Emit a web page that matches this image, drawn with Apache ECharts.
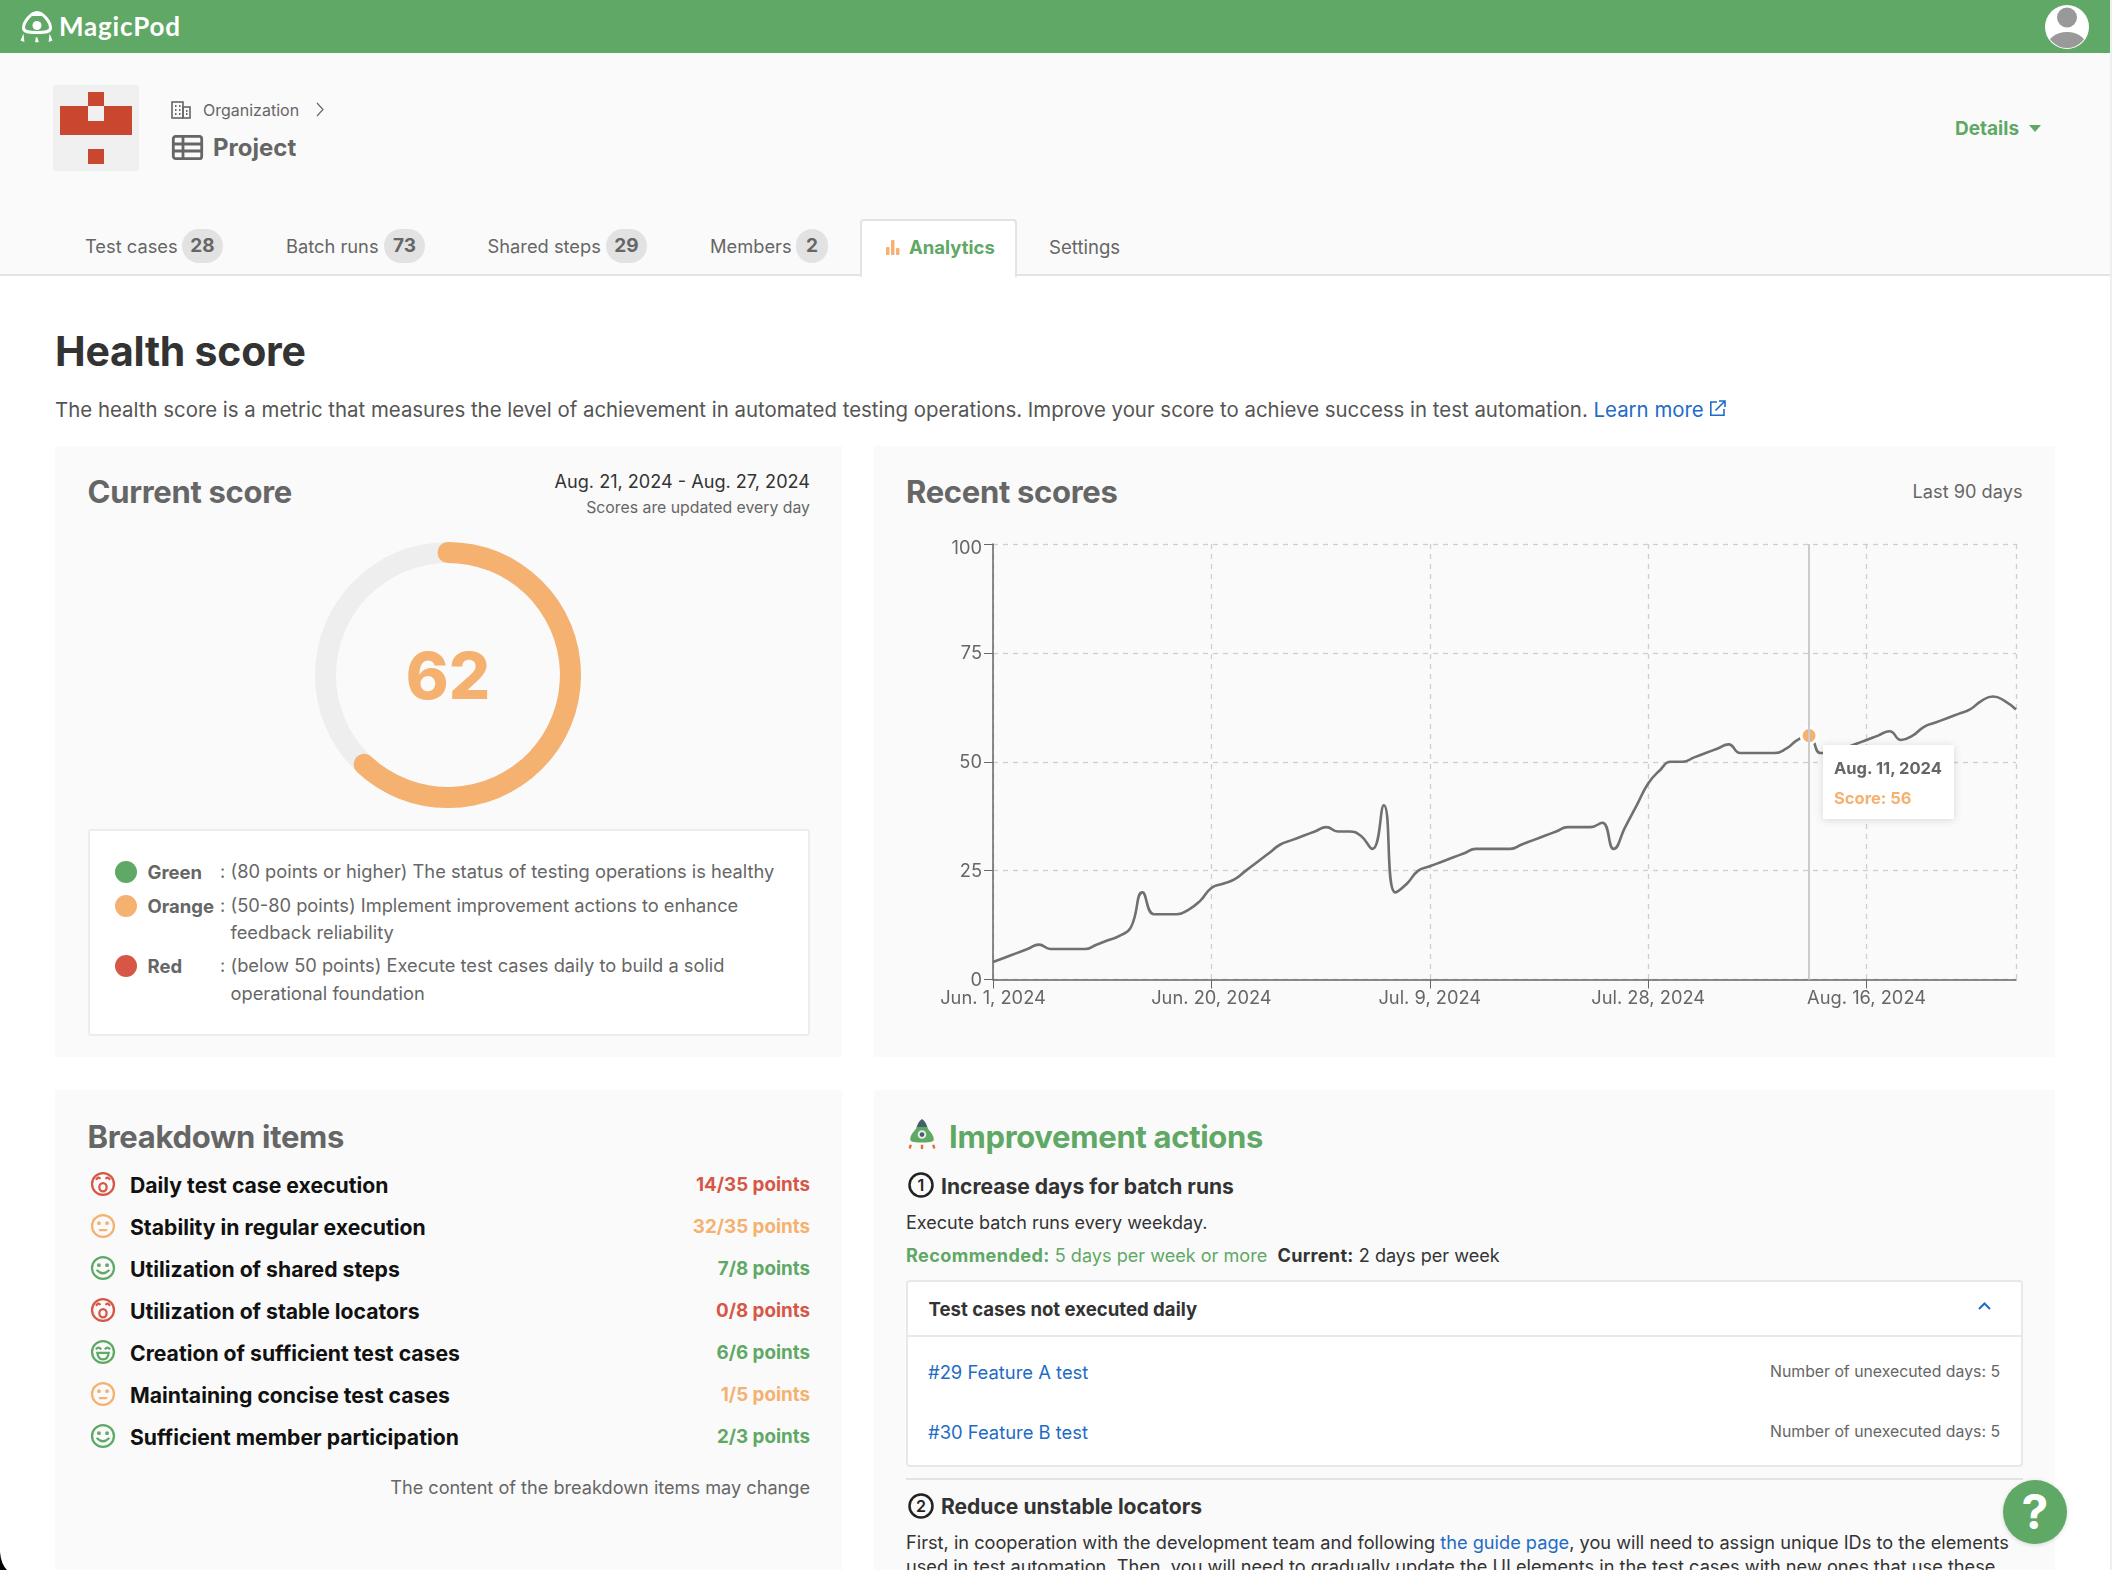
<!DOCTYPE html>
<html lang="en">
<head>
<meta charset="utf-8">
<title>Health score</title>
<script src="https://cdn.jsdelivr.net/npm/echarts@6/dist/echarts.min.js"></script>
<style>
html,body{margin:0;padding:0;background:#fff;width:2112px;height:1570px;overflow:hidden;font-family:Inter,"Noto Sans",sans-serif;color:#555;-webkit-font-smoothing:antialiased}
.b{position:absolute;box-sizing:border-box}
.t{position:absolute;transform:translateY(calc(-50% + 1.3px));white-space:nowrap;line-height:1.2}
.panel{position:absolute;background:#fafafa}
.h2{font-size:31px;font-weight:700;color:#666;letter-spacing:-.3px}
.badge{position:absolute;top:229px;height:34px;border-radius:17px;background:#e2e2e2;color:#666;font-weight:700;font-size:19px;line-height:34px;text-align:center}
.tab{font-size:18.3px;color:#666}
.a{color:#1f6cc5}
.g{color:#5fa865}
svg{position:absolute;overflow:visible}
</style>
</head>
<body>
<div class="b" style="left:0;top:0;width:2112px;height:53px;background:#5fa865"></div>
<svg style="left:0;top:0" width="60" height="53" viewBox="0 0 60 53">
  <path d="M37 12.500 C31 12.500 23.500 22 23.500 28 C23.500 31.500 27 32.500 37 32.500 C47 32.500 50.500 31.500 50.500 28 C50.500 22 43 12.500 37 12.500 Z" fill="none" stroke="#fff" stroke-width="3"/>
  <path d="M31 16 Q37 9 43 16 Z" fill="#fff"/>
  <circle cx="37" cy="25.500" r="4.500" fill="#fff"/>
  <path d="M23 36.500l-1.500 3.500 2 .8zM36.500 37.500l-.5 4 1.800 0zM50 36.500l1.500 3.500-2 .8z" fill="#fff" stroke="#fff" stroke-width="1.500"/>
</svg>
<div class="t" style="left:59px;top:25px;color:#fff;font-size:26px;font-weight:700;letter-spacing:.8px;font-family:Lato,Inter,sans-serif">MagicPod</div>
<svg style="left:2044px;top:4px" width="46" height="46" viewBox="0 0 46 46">
  <defs><clipPath id="av"><circle cx="23" cy="23" r="21"/></clipPath></defs>
  <circle cx="23" cy="23" r="22" fill="#fff"/>
  <g clip-path="url(#av)"><circle cx="23" cy="13.500" r="10" fill="#999"/><ellipse cx="23" cy="45" rx="21" ry="17" fill="#999"/></g>
</svg>
<div class="b" style="left:0;top:53px;width:2112px;height:222px;background:#fafafa"></div>
<div class="b" style="left:0;top:274px;width:2112px;height:2px;background:#e3e3e3"></div>

<div class="b" style="left:53px;top:85px;width:86px;height:86px;background:#f0f0f0;border-radius:3px"></div>
<div class="b" style="left:60px;top:106px;width:72px;height:29px;background:#c9462f"></div>
<div class="b" style="left:88px;top:92px;width:16px;height:14px;background:#c9462f"></div>
<div class="b" style="left:88px;top:106px;width:16px;height:15px;background:#f0f0f0"></div>
<div class="b" style="left:88px;top:149px;width:16px;height:15px;background:#c9462f"></div>

<svg style="left:171px;top:100px" width="20" height="20" viewBox="0 0 20 20" fill="none" stroke="#666" stroke-width="1.600"><rect x="1" y="2" width="11" height="16"/><rect x="12" y="7" width="7" height="11"/><path d="M4 6h1.500M8 6h1.500M4 10h1.500M8 10h1.500M4 14h1.500M8 14h1.500M15 11h1.500M15 14h1.500" stroke-width="2"/></svg>
<div class="t" style="left:203px;top:108.500px;font-size:16px;color:#666">Organization</div>
<svg style="left:315px;top:102px" width="10" height="15" viewBox="0 0 10 15" fill="none" stroke="#666" stroke-width="1.200"><path d="M2 1l6 6.500-6 6.500"/></svg>
<svg style="left:172px;top:135px" width="31" height="25" viewBox="0 0 31 25" fill="none" stroke="#666" stroke-width="2.800"><rect x="1.300" y="1.300" width="28.400" height="22.400" rx="2.500"/><path d="M1 9h29M1 16h29M11 2v22"/></svg>
<div class="t" style="left:213px;top:147px;font-size:24px;font-weight:700;color:#666">Project</div>
<div class="t g" style="left:1955px;top:128px;font-size:19px;font-weight:700">Details</div>
<svg style="left:2029px;top:125px" width="12" height="7" viewBox="0 0 12 7"><path d="M0 0h12L6 7z" fill="#5fa865"/></svg>

<div class="t tab" style="left:85px;top:246px">Test cases</div><div class="badge" style="left:182px;width:41px">28</div>
<div class="t tab" style="left:286px;top:246px">Batch runs</div><div class="badge" style="left:384px;width:41px">73</div>
<div class="t tab" style="left:487.500px;top:246px">Shared steps</div><div class="badge" style="left:606px;width:41px">29</div>
<div class="t tab" style="left:710px;top:246px">Members</div><div class="badge" style="left:796px;width:32px">2</div>
<div class="b" style="left:860px;top:219px;width:157px;height:58px;background:#fff;border:2px solid #e3e3e3;border-bottom:0;border-radius:4px 4px 0 0"></div>
<svg style="left:886px;top:240px" width="14" height="15" viewBox="0 0 14 15" fill="#f4b170"><rect x="0" y="7" width="3.500" height="8" rx="1"/><rect x="5" y="0" width="3.500" height="15" rx="1"/><rect x="10" y="8" width="3.500" height="7" rx="1"/></svg>
<div class="t g" style="left:909px;top:246px;font-size:18.500px;font-weight:700">Analytics</div>
<div class="t tab" style="left:1049px;top:246px;font-size:18.600px">Settings</div>

<div class="t" style="left:55px;top:350px;font-size:41px;font-weight:700;color:#333;letter-spacing:-.25px">Health score</div>
<div class="t" style="left:55px;top:408.500px;font-size:20.410px;color:#555">The health score is a metric that measures the level of achievement in automated testing operations. Improve your score to achieve success in test automation. <span class="a">Learn more</span></div>
<svg style="left:1709px;top:400px" width="17" height="17" viewBox="0 0 17 17" fill="none" stroke="#1f6cc5" stroke-width="1.600"><path d="M8 2H1.800v13.200H15V9"/><path d="M6.500 10.500L15.500 1.500M10 1h6v6"/></svg>

<div class="panel" style="left:55px;top:446px;width:787px;height:611px"></div>
<div class="panel" style="left:874px;top:446px;width:1181px;height:611px"></div>
<div class="panel" style="left:55px;top:1090px;width:787px;height:480px"></div>
<div class="panel" style="left:874px;top:1090px;width:1181px;height:480px"></div>

<div class="t h2" style="left:87.500px;top:490px">Current score</div>
<div class="t" style="right:1302px;top:480.500px;font-size:18.100px;color:#333">Aug. 21, 2024 - Aug. 27, 2024</div>
<div class="t" style="right:1302px;top:506.500px;font-size:15.800px;color:#666">Scores are updated every day</div>
<div id="gauge" class="b" style="left:288px;top:514.500px;width:320px;height:320px"></div>

<div class="b" style="left:88px;top:829px;width:722px;height:207px;background:#fff;border:2px solid #ededed;border-radius:3px"></div>
<div id="legend"></div>

<div class="t h2" style="left:906px;top:490px">Recent scores</div>
<div class="t" style="right:89.500px;top:490.500px;font-size:18.200px;color:#666">Last 90 days</div>
<div id="line" class="b" style="left:874px;top:446px;width:1181px;height:611px"></div>

<div class="t h2" style="left:87.500px;top:1134.500px">Breakdown items</div>
<div id="breakdown"></div>
<div class="t" style="right:1302px;top:1486.500px;font-size:18.150px;color:#666">The content of the breakdown items may change</div>

<svg style="left:908px;top:1119px" width="28" height="30" viewBox="0 0 26 28">
  <path d="M13 0 C10 2 8.500 5 8 8 L18 8 C17.500 5 16 2 13 0 Z" fill="#46606b"/>
  <path d="M8 7.500 C7 11 2 14 2 19 C2 21 4 22 13 22 C22 22 24 21 24 19 C24 14 19 11 18 7.500 Z" fill="#5fa865"/>
  <circle cx="13" cy="14.500" r="4" fill="#e8efe8"/><circle cx="13" cy="14.500" r="2.200" fill="#46606b"/>
  <path d="M2.500 24l-1 3.500M13 24v4M23.500 24l1 3.500" stroke="#e8683a" stroke-width="2.200"/>
</svg>
<div class="t g" style="left:949px;top:1134.500px;font-size:31px;font-weight:700;letter-spacing:-.3px">Improvement actions</div>
<svg style="left:908px;top:1172px" width="26" height="26" viewBox="0 0 26 26"><circle cx="13" cy="13" r="11.500" fill="none" stroke="#222" stroke-width="2.500"/><text x="13" y="18.500" text-anchor="middle" font-size="16" font-weight="600" fill="#222" font-family="Inter">1</text></svg>
<div class="t" style="left:941px;top:1185px;font-size:21.050px;font-weight:700;color:#333">Increase days for batch runs</div>
<div class="t" style="left:906px;top:1220.500px;font-size:18px;color:#333">Execute batch runs every weekday.</div>
<div class="t" style="left:906px;top:1255px;font-size:18.100px;color:#333"><span class="g"><b style="letter-spacing:.4px">Recommended:</b> 5 days per week or more</span>&nbsp; <b style="letter-spacing:.3px">Current:</b> 2 days per week</div>
<div class="b" style="left:906px;top:1280px;width:1117px;height:187px;background:#fff;border:2px solid #e8e8e8;border-radius:4px"></div>
<div class="b" style="left:907px;top:1335px;width:1115px;height:2px;background:#e8e8e8"></div>
<div class="t" style="left:928.500px;top:1307.500px;font-size:18.600px;font-weight:700;color:#333">Test cases not executed daily</div>
<svg style="left:1978px;top:1302px" width="13" height="8" viewBox="0 0 13 8" fill="none" stroke="#1f6cc5" stroke-width="2"><path d="M1 7l5.500-5.500L12 7"/></svg>
<div id="rows"></div>
<div class="b" style="left:906px;top:1478px;width:1117px;height:2px;background:#e3e3e3"></div>
<svg style="left:908px;top:1493px" width="26" height="26" viewBox="0 0 26 26"><circle cx="13" cy="13" r="11.500" fill="none" stroke="#222" stroke-width="2.500"/><text x="13" y="18.500" text-anchor="middle" font-size="16" font-weight="600" fill="#222" font-family="Inter">2</text></svg>
<div class="t" style="left:941px;top:1505px;font-size:21.050px;font-weight:700;color:#333">Reduce unstable locators</div>
<div class="t" style="left:906px;top:1541.500px;font-size:18.200px;color:#333">First, in cooperation with the development team and following <span class="a">the guide page</span>, you will need to assign unique IDs to the elements</div>
<div class="t" style="left:906px;top:1566px;font-size:18.200px;color:#333">used in test automation. Then, you will need to gradually update the UI elements in the test cases with new ones that use these</div>

<div class="b" style="left:2003px;top:1480px;width:64px;height:64px;border-radius:32px;background:#5fa865;box-shadow:0 1px 4px rgba(0,0,0,.15);color:#fff;font-size:48px;font-weight:700;line-height:64px;text-align:center">?</div>
<div class="b" style="left:2110px;top:0;width:2px;height:1570px;background:#eee"></div>
<svg style="left:0;top:1550px" width="10" height="20" viewBox="0 0 10 20"><path d="M0 2 Q1 14 7 20 L0 20 Z" fill="#000"/></svg>

<script>
var dates = [
'Jun. 1, 2024','Jun. 2, 2024','Jun. 3, 2024','Jun. 4, 2024','Jun. 5, 2024','Jun. 6, 2024','Jun. 7, 2024','Jun. 8, 2024','Jun. 9, 2024','Jun. 10, 2024',
'Jun. 11, 2024','Jun. 12, 2024','Jun. 13, 2024','Jun. 14, 2024','Jun. 15, 2024','Jun. 16, 2024','Jun. 17, 2024','Jun. 18, 2024','Jun. 19, 2024','Jun. 20, 2024',
'Jun. 21, 2024','Jun. 22, 2024','Jun. 23, 2024','Jun. 24, 2024','Jun. 25, 2024','Jun. 26, 2024','Jun. 27, 2024','Jun. 28, 2024','Jun. 29, 2024','Jun. 30, 2024',
'Jul. 1, 2024','Jul. 2, 2024','Jul. 3, 2024','Jul. 4, 2024','Jul. 5, 2024','Jul. 6, 2024','Jul. 7, 2024','Jul. 8, 2024','Jul. 9, 2024','Jul. 10, 2024',
'Jul. 11, 2024','Jul. 12, 2024','Jul. 13, 2024','Jul. 14, 2024','Jul. 15, 2024','Jul. 16, 2024','Jul. 17, 2024','Jul. 18, 2024','Jul. 19, 2024','Jul. 20, 2024',
'Jul. 21, 2024','Jul. 22, 2024','Jul. 23, 2024','Jul. 24, 2024','Jul. 25, 2024','Jul. 26, 2024','Jul. 27, 2024','Jul. 28, 2024','Jul. 29, 2024','Jul. 30, 2024',
'Jul. 31, 2024','Aug. 1, 2024','Aug. 2, 2024','Aug. 3, 2024','Aug. 4, 2024','Aug. 5, 2024','Aug. 6, 2024','Aug. 7, 2024','Aug. 8, 2024','Aug. 9, 2024',
'Aug. 10, 2024','Aug. 11, 2024','Aug. 12, 2024','Aug. 13, 2024','Aug. 14, 2024','Aug. 15, 2024','Aug. 16, 2024','Aug. 17, 2024','Aug. 18, 2024','Aug. 19, 2024',
'Aug. 20, 2024','Aug. 21, 2024','Aug. 22, 2024','Aug. 23, 2024','Aug. 24, 2024','Aug. 25, 2024','Aug. 26, 2024','Aug. 27, 2024','Aug. 28, 2024','Aug. 29, 2024'];
var scores = [
4,5,6,7,8,7,7,7,7,8,
9,10,12,20,15,15,15,16,18,21,
22,23,25,27,29,31,32,33,34,35,
34,34,33,30,40,20,22,25,26,27,
28,29,30,30,30,30,31,32,33,34,
35,35,35,36,30,35,40,45,48,50,
50,51,52,53,54,52,52,52,52,53,
55,56,52,52,53,54,55,56,57,55,
56,58,59,60,61,62,64,65,64,62];
var highlightedDay = 71;
var currentScore = 62;

var tierColor = {green:'#5fa865', orange:'#f4b170', red:'#d65745'};
var legendNames = ['Green','Orange','Red'];
var legendText = [
  ['(80 points or higher) The status of testing operations is healthy'],
  ['(50-80 points) Implement improvement actions to enhance','feedback reliability'],
  ['(below 50 points) Execute test cases daily to build a solid','operational foundation']];
var legendY = [[870.500],[904.500,931.500],[965,993]];

var itemNames = ['Daily test case execution','Stability in regular execution','Utilization of shared steps','Utilization of stable locators','Creation of sufficient test cases','Maintaining concise test cases','Sufficient member participation'];
var itemPoints = ['14/35 points','32/35 points','7/8 points','0/8 points','6/6 points','1/5 points','2/3 points'];
var itemTier = ['red','orange','green','red','green','orange','green'];
var itemFace = ['sad','flat','smile','sad','grin','flat','smile'];
var itemY = [1184,1226,1268,1310,1352,1394,1436];

var rowNames = ['#29 Feature A test','#30 Feature B test'];
var rowDays = ['Number of unexecuted days: 5','Number of unexecuted days: 5'];
var rowY = [1371,1431];

function face(kind,c){
  var inner = {
    sad:'<path d="M8 10q2-3 4-1M20 9q2-2 4 1" fill="none"/><ellipse cx="16" cy="20" rx="4.500" ry="5" fill="none"/>',
    flat:'<circle cx="11" cy="12.500" r="1" fill="'+c+'"/><circle cx="21" cy="12.500" r="1" fill="'+c+'"/><path d="M12 21h8" fill="none"/>',
    smile:'<circle cx="11" cy="12.500" r="1" fill="'+c+'"/><circle cx="21" cy="12.500" r="1" fill="'+c+'"/><path d="M9 19q7 7 14 0" fill="none"/>',
    grin:'<path d="M8 12q2.500-3 5 0M19 12q2.500-3 5 0" fill="none"/><path d="M9 17h14q-1 8-7 8t-7-8z" fill="none"/>'
  }[kind];
  return '<circle cx="16" cy="16" r="13.500" fill="none"/>'+inner;
}
var html='';
legendNames.forEach(function(n,i){
  var c=tierColor[n.toLowerCase()];
  html+='<div class="b" style="left:115px;top:'+(legendY[i][0]-10)+'px;width:22px;height:22px;border-radius:11px;background:'+c+'"></div>';
  html+='<div class="t" style="left:147.500px;top:'+legendY[i][0]+'px;font-size:18.500px;font-weight:700;color:#666">'+n+'</div>';
  html+='<div class="t" style="left:220px;top:'+legendY[i][0]+'px;font-size:18.300px;color:#666">:</div>';
  legendText[i].forEach(function(s,j){
    html+='<div class="t" style="left:230.500px;top:'+legendY[i][j]+'px;font-size:18.280px;color:#666">'+s+'</div>';
  });
});
document.getElementById('legend').innerHTML=html;
html='';
itemNames.forEach(function(n,i){
  var c=tierColor[itemTier[i]];
  html+='<svg style="left:90px;top:'+(itemY[i]-13)+'px" width="26" height="26" viewBox="0 0 32 32" stroke="'+c+'" stroke-width="2.800" stroke-linecap="round">'+face(itemFace[i],c)+'</svg>';
  html+='<div class="t" style="left:130px;top:'+itemY[i]+'px;font-size:21.200px;font-weight:700;color:#111">'+n+'</div>';
  html+='<div class="t" style="right:1302px;top:'+itemY[i]+'px;font-size:18.800px;font-weight:700;color:'+c+'">'+itemPoints[i]+'</div>';
});
document.getElementById('breakdown').innerHTML=html;
html='';
rowNames.forEach(function(n,i){
  html+='<div class="t a" style="left:928px;top:'+rowY[i]+'px;font-size:18.400px">'+n+'</div>';
  html+='<div class="t" style="right:112px;top:'+rowY[i]+'px;font-size:15.800px;color:#666">'+rowDays[i]+'</div>';
});
document.getElementById('rows').innerHTML=html;

var gauge = echarts.init(document.getElementById('gauge'));
gauge.setOption({
  animation:false,
  series:[{
    type:'gauge', center:['50%','50%'], radius:133, startAngle:90, endAngle:-270, min:0, max:100,
    pointer:{show:false}, splitLine:{show:false}, axisTick:{show:false}, axisLabel:{show:false}, title:{show:false},
    axisLine:{lineStyle:{width:21,color:[[1,'#eeeeee']]}},
    progress:{show:true,width:21,roundCap:true,itemStyle:{color:tierColor.orange}},
    detail:{offsetCenter:[0,4],formatter:'{value}',color:tierColor.orange,fontFamily:'Inter',fontWeight:800,fontSize:65},
    data:[{value:currentScore}]
  }]
});

var everyNineteen = function(i){return i%19===0;};
var line = echarts.init(document.getElementById('line'));
line.setOption({
  animation:false,
  textStyle:{fontFamily:'Inter'},
  grid:{left:119,right:39,top:98,bottom:77.500},
  tooltip:{
    trigger:'axis', alwaysShowContent:true, showDelay:0, transitionDuration:0,
    padding:0, borderWidth:0, backgroundColor:'#fff', extraCssText:'box-shadow:0 1px 8px rgba(0,0,0,.14);border-radius:0;',
    axisPointer:{type:'line',snap:true,lineStyle:{color:'#cccccc',width:2,type:'solid'}},
    position:function(p){return [p[0]+14,p[1]+9];},
    formatter:function(ps){
      return '<div style="width:131px;height:74px;box-sizing:border-box;padding:8px 11px;font:700 16.500px/30px Inter;color:#666">'+ps[0].name+'<br><span style="color:'+tierColor.orange+'">Score: '+ps[0].value+'</span></div>';
    }
  },
  xAxis:{
    type:'category', boundaryGap:false, data:dates,
    axisLine:{lineStyle:{color:'#666',width:1.500}},
    axisTick:{interval:everyNineteen,length:9,lineStyle:{color:'#666'}},
    axisLabel:{interval:everyNineteen,color:'#666',fontSize:18.300,margin:10,hideOverlap:false},
    splitLine:{show:true,interval:function(i){return i%19===0||i===dates.length-1;},lineStyle:{color:'#cfcfcf',type:[5,5],width:1.300}}
  },
  yAxis:{
    type:'value', min:0, max:100, interval:25,
    axisLine:{show:true,lineStyle:{color:'#666',width:1.500}},
    axisTick:{show:true,length:9,lineStyle:{color:'#666'}},
    axisLabel:{color:'#666',fontSize:18.300,margin:11,formatter:function(v){return v===100?'{top|100}':'{mid|'+v+'}';},rich:{top:{color:'#666',fontSize:18.300,padding:[10,0,0,0]},mid:{color:'#666',fontSize:18.300,padding:[2,0,0,0]}}},
    splitLine:{show:true,lineStyle:{color:'#cfcfcf',type:[5,5],width:1.300}}
  },
  series:[{
    type:'line', data:scores, smooth:0.5, showSymbol:false, symbol:'circle', symbolSize:16,
    lineStyle:{color:'#666',width:2.600},
    itemStyle:{color:tierColor.orange,borderColor:'#fff',borderWidth:3},
    emphasis:{scale:false,lineStyle:{width:2.600}}
  }]
});
line.dispatchAction({type:'showTip',seriesIndex:0,dataIndex:highlightedDay});
</script>
</body>
</html>
